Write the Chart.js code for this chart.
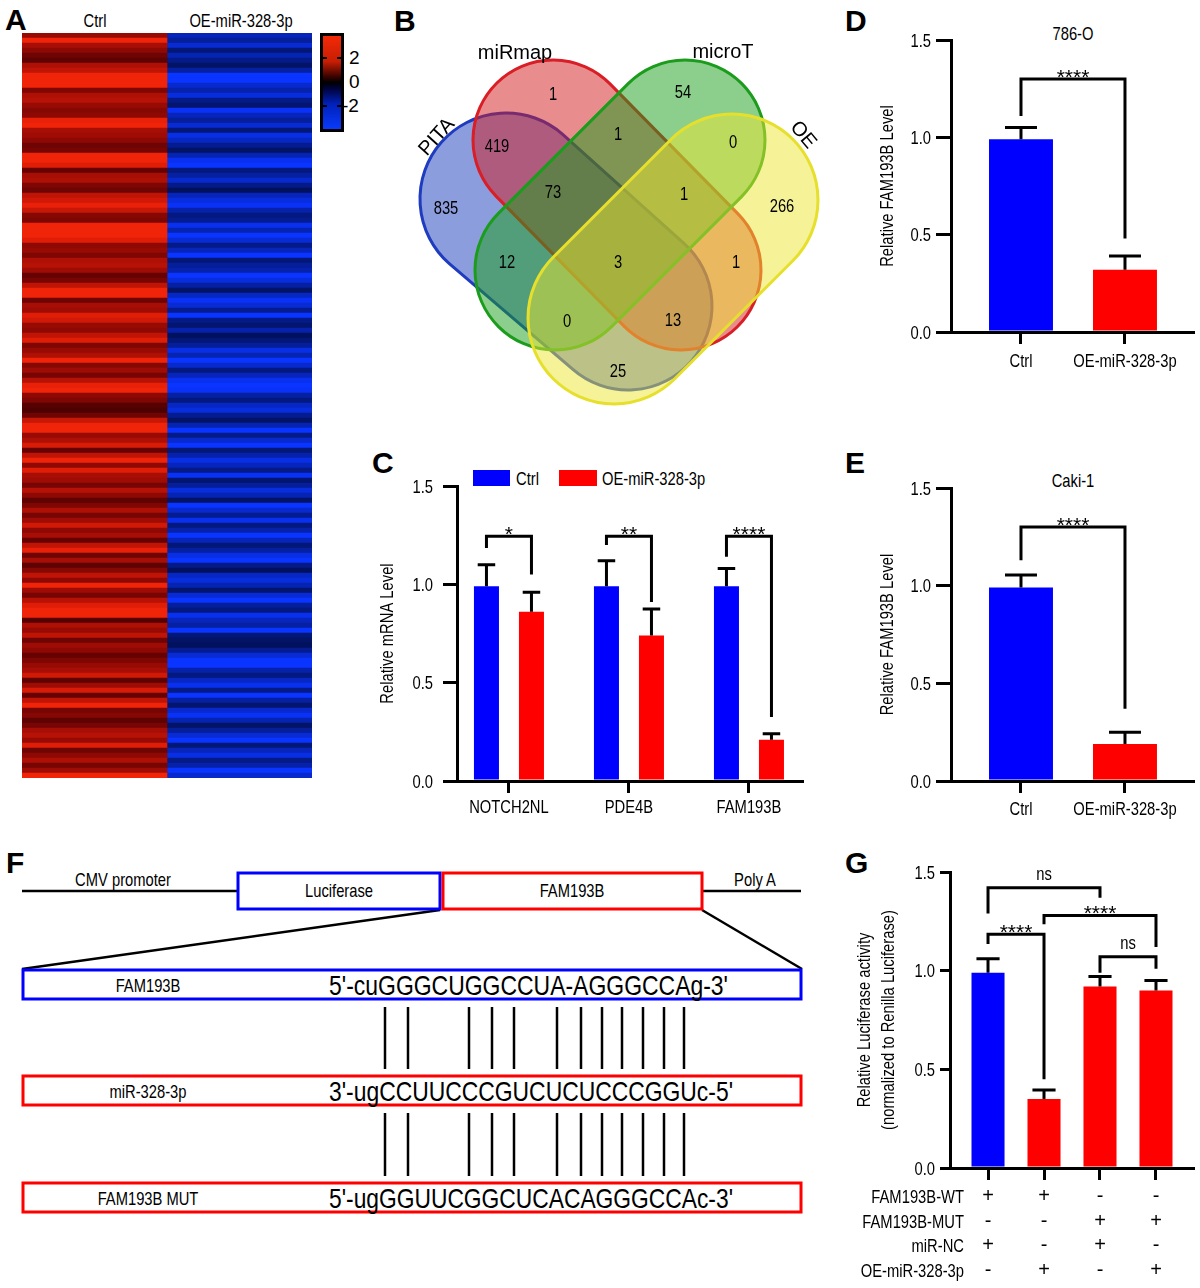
<!DOCTYPE html>
<html>
<head>
<meta charset="utf-8">
<script src="https://cdn.jsdelivr.net/npm/chart.js@4.4.1/dist/chart.umd.min.js"></script>
<style>
  body { margin: 0; background: #fff; }
  #fig { position: relative; width: 1200px; height: 1288px; overflow: hidden; }
  #fig canvas { position: absolute; }
  #fig svg { position: absolute; left: 0; top: 0; }
  svg text { font-family: 'Liberation Sans', Arial, sans-serif; }
  .b { font-weight: bold; font-size: 30px; }
</style>
</head>
<body>
<div id="fig">
<svg id="art" width="1200" height="1288">
  <defs>
    <linearGradient id="cb" x1="0" y1="0" x2="0" y2="1">
      <stop offset="0" stop-color="#f52a08"/>
      <stop offset="0.28" stop-color="#c81e04"/>
      <stop offset="0.44" stop-color="#380200"/>
      <stop offset="0.5" stop-color="#000000"/>
      <stop offset="0.56" stop-color="#000238"/>
      <stop offset="0.72" stop-color="#0020b8"/>
      <stop offset="1" stop-color="#0a3cff"/>
    </linearGradient>
  </defs>
  <text class="b" x="5" y="30">A</text>
  <text class="b" x="394" y="31">B</text>
  <text class="b" x="372" y="473">C</text>
  <text class="b" x="845" y="31">D</text>
  <text class="b" x="845" y="473">E</text>
  <text class="b" x="6" y="873">F</text>
  <text class="b" x="845" y="873">G</text>

  <g font-size="18" text-anchor="middle">
    <text transform="translate(95,27) scale(0.82,1)">Ctrl</text>
    <text transform="translate(241,27) scale(0.82,1)">OE-miR-328-3p</text>
    <text transform="translate(1073,40) scale(0.82,1)">786-O</text>
    <text transform="translate(1073,487) scale(0.82,1)">Caki-1</text>
  </g>
  <rect x="321.5" y="34.5" width="21" height="96" fill="url(#cb)" stroke="#000" stroke-width="3"/>
  <g stroke="#000" stroke-width="2">
    <line x1="323" y1="58" x2="327" y2="58"/><line x1="337" y1="58" x2="341" y2="58"/>
    <line x1="323" y1="106" x2="327" y2="106"/><line x1="337" y1="106" x2="341" y2="106"/>
  </g>
  <text font-size="19" x="349" y="64">2</text>
  <text font-size="19" x="349" y="88">0</text>
  <text font-size="19" x="342" y="112">-2</text>

  <rect x="473" y="470" width="37" height="16" fill="#0000ff"/>
  <text font-size="18" transform="translate(516,485) scale(0.82,1)">Ctrl</text>
  <rect x="559" y="470" width="38" height="16" fill="#ff0000"/>
  <text font-size="18" transform="translate(602,485) scale(0.82,1)">OE-miR-328-3p</text>

  <g fill="none" stroke="#000" stroke-width="2.5">
    <line x1="22" y1="891" x2="237" y2="891"/>
    <line x1="702" y1="891" x2="801" y2="891"/>
    <line x1="440" y1="910" x2="22" y2="969"/>
    <line x1="702" y1="910" x2="802" y2="969"/>
  </g>
  <rect x="238" y="873" width="202" height="36" fill="none" stroke="#0000ff" stroke-width="3"/>
  <rect x="443" y="873" width="259" height="36" fill="none" stroke="#ff0000" stroke-width="3"/>
  <rect x="23" y="970" width="778" height="29" fill="none" stroke="#0000ff" stroke-width="3"/>
  <rect x="23" y="1076" width="778" height="29" fill="none" stroke="#ff0000" stroke-width="3"/>
  <rect x="23" y="1183" width="778" height="29" fill="none" stroke="#ff0000" stroke-width="3"/>
  <g font-size="18" text-anchor="middle">
    <text transform="translate(123,886) scale(0.82,1)">CMV promoter</text>
    <text transform="translate(339,897) scale(0.82,1)">Luciferase</text>
    <text transform="translate(572,897) scale(0.82,1)">FAM193B</text>
    <text transform="translate(755,886) scale(0.82,1)">Poly A</text>
    <text transform="translate(148,992) scale(0.82,1)">FAM193B</text>
    <text transform="translate(148,1098) scale(0.82,1)">miR-328-3p</text>
    <text transform="translate(148,1205) scale(0.82,1)">FAM193B MUT</text>
  </g>
  <g font-size="28">
    <text x="329" y="995" textLength="399" lengthAdjust="spacingAndGlyphs">5'-cuGGGCUGGCCUA-AGGGCCAg-3'</text>
    <text x="329" y="1101" textLength="404" lengthAdjust="spacingAndGlyphs">3'-ugCCUUCCCGUCUCUCCCGGUc-5'</text>
    <text x="329" y="1208" textLength="404" lengthAdjust="spacingAndGlyphs">5'-ugGGUUCGGCUCACAGGGCCAc-3'</text>
  </g>
  <g id="pairs" stroke="#000" stroke-width="2.5"></g>
</svg>
<canvas id="heat" width="290" height="745" style="left:22px;top:33px"></canvas>
<canvas id="venn" width="460" height="420" style="left:380px;top:0px"></canvas>
<canvas id="mrna" width="440" height="390" style="left:370px;top:440px"></canvas>
<canvas id="c786" width="360" height="390" style="left:840px;top:0px"></canvas>
<canvas id="caki" width="360" height="390" style="left:840px;top:440px"></canvas>
<canvas id="luc" width="360" height="448" style="left:840px;top:840px"></canvas>
</div>
<script>
const SANS = "'Liberation Sans', Arial, sans-serif";

// A: heatmap rows (z-scores)
const heatCtrl = [
  1.3, 2.4, 1.5, 1.2, 0.8, 0.6, 1.6, 1.8, 2.5, 2.6,
  2.5, 1.0, 1.6, 1.7, 1.3, 1.1, 1.2, 2.3, 2.6, 1.5,
  1.4, 1.2, 0.8, 0.9, 2.4, 2.6, 2.2, 0.7, 1.5, 1.6,
  1.0, 0.8, 1.8, 2.0, 2.3, 1.9, 1.1, 1.0, 2.5, 2.6,
  2.7, 2.2, 1.2, 1.3, 1.0, 1.6, 1.7, 1.4, 0.7, 0.9,
  1.8, 2.5, 2.6, 0.8, 1.5, 1.4, 2.2, 2.0, 1.3, 1.2,
  1.8, 2.2, 1.0, 1.3, 1.6, 2.4, 1.1, 1.4, 0.9, 1.7,
  2.3, 2.5, 1.2, 1.0, 0.5, 0.4, 0.8, 1.9, 2.7, 2.4,
  1.3, 1.6, 2.1, 0.7, 1.8, 2.5, 1.2, 2.2, 1.5, 1.4,
  0.9, 1.7, 1.2, 0.6, 1.0, 1.6, 0.9, 1.4, 2.0, 1.2,
  1.5, 0.7, 1.8, 2.3, 0.8, 1.5, 0.6, 1.1, 1.8, 1.2,
  2.6, 1.4, 0.9, 1.7, 2.2, 2.5, 2.4, 0.5, 1.6, 1.3,
  1.8, 0.8, 1.4, 1.2, 0.7, 1.0, 1.3, 1.5, 2.0, 0.6,
  1.4, 2.1, 0.7, 1.8, 2.5, 0.9, 1.1, 0.6, 0.9, 1.5,
  1.7, 1.3, 2.2, 0.8, 1.2, 1.6, 0.9, 1.4, 2.4
];
const heatOE = [
  -1.6, -1.2, -1.9, -0.8, -1.5, -1.0, -0.6, -1.3, -2.4, -2.6,
  -1.8, -1.4, -2.0, -1.0, -0.7, -2.3, -1.6, -1.2, -1.9, -0.8,
  -2.1, -1.7, -1.1, -0.6, -1.5, -2.2, -2.4, -0.9, -1.3, -1.8,
  -1.0, -0.5, -1.6, -2.0, -2.3, -1.4, -0.9, -1.1, -2.2, -1.5,
  -2.5, -1.9, -1.0, -1.6, -2.4, -0.8, -1.2, -1.4, -2.6, -2.0,
  -1.3, -0.6, -1.7, -2.3, -1.9, -1.1, -2.5, -1.0, -0.7, -1.4,
  -0.5, -0.8, -1.2, -2.1, -1.5, -2.4, -1.8, -0.9, -1.6, -2.2,
  -2.6, -2.3, -1.3, -0.9, -1.7, -2.0, -1.1, -0.6, -1.5, -2.4,
  -1.0, -1.8, -2.5, -0.8, -1.4, -2.1, -1.6, -1.0, -2.3, -0.7,
  -1.2, -2.0, -1.5, -0.6, -2.4, -1.8, -1.1, -2.2, -0.9, -1.4,
  -2.5, -1.6, -0.8, -1.3, -2.1, -2.6, -1.0, -0.5, -1.7, -2.0,
  -1.5, -0.7, -1.9, -2.4, -1.2, -0.9, -2.2, -1.6, -1.3, -2.5,
  -0.8, -0.6, -0.5, -1.1, -1.9, -2.6, -2.4, -1.4, -0.9, -1.7,
  -2.2, -1.0, -2.5, -1.3, -0.7, -1.8, -2.3, -1.5, -0.6, -1.2,
  -1.9, -2.4, -0.8, -1.6, -2.1, -1.0, -1.4, -2.6, -1.8
];

// B: venn
const vennSets = ["PITA", "miRmap", "microT", "OE"];
const vennCounts = [1, 54, 419, 1, 0, 835, 73, 1, 266, 12, 3, 1, 0, 13, 25];
const vennSpotX = [553, 683, 497, 618, 733, 446, 553, 684, 782, 507, 618, 736, 567, 673, 618];
const vennSpotY = [95, 93, 147, 135, 143, 209, 193, 195, 207, 263, 263, 263, 322, 321, 372];

// C: qPCR
const mrnaGenes = ["NOTCH2NL", "PDE4B", "FAM193B"];
const mrnaCtrl = [0.99, 0.99, 0.99];
const mrnaCtrlErr = [0.11, 0.13, 0.09];
const mrnaOE = [0.86, 0.74, 0.21];
const mrnaOEErr = [0.10, 0.135, 0.03];
const mrnaStars = ["*", "**", "****"];

// D / E
const groups = ["Ctrl", "OE-miR-328-3p"];
const level786 = [0.99, 0.32];
const level786Err = [0.06, 0.07];
const levelCaki = [0.99, 0.19];
const levelCakiErr = [0.065, 0.06];

// G: luciferase
const lucValues = [0.99, 0.35, 0.92, 0.90];
const lucErr = [0.07, 0.045, 0.05, 0.05];
const lucRows = ["FAM193B-WT", "FAM193B-MUT", "miR-NC", "OE-miR-328-3p"];
const lucTable = [
  ["+", "+", "-", "-"],
  ["-", "-", "+", "+"],
  ["+", "-", "+", "-"],
  ["-", "+", "-", "+"]
];

// F: base pairing ticks
const pairX = [385, 408, 469, 492, 514, 557, 581, 602, 622, 643, 664, 684];

const BLUE = "#0000ff";
const RED = "#ff0000";

Chart.defaults.font.family = SANS;
Chart.defaults.font.size = 18;
Chart.defaults.color = "#000";
Chart.defaults.animation = false;
Chart.defaults.responsive = false;
Chart.defaults.devicePixelRatio = 1;
Chart.defaults.events = [];
Chart.defaults.plugins.legend.display = false;
Chart.defaults.plugins.tooltip.enabled = false;

var pairs = document.getElementById("pairs");
pairX.forEach(function (x) {
  [[1007, 1069], [1113, 1176]].forEach(function (yy) {
    var l = document.createElementNS("http://www.w3.org/2000/svg", "line");
    l.setAttribute("x1", x); l.setAttribute("x2", x);
    l.setAttribute("y1", yy[0]); l.setAttribute("y2", yy[1]);
    pairs.appendChild(l);
  });
});

// condensed text: Arial squeezed to the narrow face used in the figure
function narrowText(ctx, text, x, y, size, align, angle, baseline) {
  ctx.save();
  ctx.translate(x, y);
  if (angle) ctx.rotate(angle);
  ctx.scale(0.82, 1);
  ctx.font = size + "px " + SANS;
  ctx.fillStyle = "#000";
  ctx.textAlign = align || "center";
  ctx.textBaseline = baseline || "alphabetic";
  ctx.fillText(text, 0, 0);
  ctx.restore();
}

function heatColor(v) {
  var t = Math.min(Math.abs(v) / 2.4, 1);
  if (v >= 0) {
    return "rgb(" + Math.round(45 + 195 * t) + "," + Math.round(36 * t * t) + "," + Math.round(8 * t) + ")";
  }
  return "rgb(" + Math.round(10 * t) + "," + Math.round(8 + 44 * t) + "," + Math.round(50 + 205 * t) + ")";
}

new Chart(document.getElementById("heat"), {
  type: "bar",
  data: {
    labels: heatCtrl.map(function (_, i) { return i; }),
    datasets: [
      { data: heatCtrl.map(function () { return [0, 1]; }), backgroundColor: heatCtrl.map(heatColor) },
      { data: heatOE.map(function () { return [1, 2]; }), backgroundColor: heatOE.map(heatColor) }
    ]
  },
  options: {
    indexAxis: "y",
    layout: { padding: 0 },
    datasets: { bar: { grouped: false, barPercentage: 1, categoryPercentage: 1, borderWidth: 0 } },
    scales: {
      x: { display: false, min: 0, max: 2 },
      y: { display: false }
    }
  }
});

// capsule shapes of the venn (cap centres, radii, chart units)
const vennShapes = [
  { a: [506, 199], b: [628, 306], ra: 86, rb: 84, fill: "rgba(25,60,190,0.5)", line: "#1f3cc0" },
  { a: [553, 140], b: [681, 270], ra: 80, rb: 80, fill: "rgba(210,25,30,0.5)", line: "#d91e26" },
  { a: [685, 140], b: [555, 270], ra: 80, rb: 80, fill: "rgba(25,160,25,0.5)", line: "#1c9c1c" },
  { a: [732, 200], b: [614, 318], ra: 86, rb: 86, fill: "rgba(235,230,50,0.5)", line: "#e6e02c" }
];
const vennNamePos = [[437, 137, -48], [515, 53, 0], [723, 52, 0], [803, 135, 50]];

const vennPlugin = {
  id: "venn",
  beforeDatasetsDraw: function (chart) {
    var ctx = chart.ctx, sx = chart.scales.x, sy = chart.scales.y;
    var unit = sx.getPixelForValue(1) - sx.getPixelForValue(0);
    ctx.save();
    vennShapes.forEach(function (s) {
      var x1 = sx.getPixelForValue(s.a[0]), y1 = sy.getPixelForValue(s.a[1]);
      var x2 = sx.getPixelForValue(s.b[0]), y2 = sy.getPixelForValue(s.b[1]);
      var ang = Math.atan2(y2 - y1, x2 - x1);
      ctx.beginPath();
      ctx.arc(x2, y2, s.rb * unit, ang - Math.PI / 2, ang + Math.PI / 2);
      ctx.arc(x1, y1, s.ra * unit, ang + Math.PI / 2, ang + 1.5 * Math.PI);
      ctx.closePath();
      ctx.fillStyle = s.fill;
      ctx.fill();
      ctx.lineWidth = 3;
      ctx.strokeStyle = s.line;
      ctx.stroke();
    });
    ctx.fillStyle = "#000";
    ctx.font = "20px " + SANS;
    ctx.textAlign = "center";
    ctx.textBaseline = "middle";
    vennSets.forEach(function (name, i) {
      var p = vennNamePos[i];
      ctx.save();
      ctx.translate(sx.getPixelForValue(p[0]), sy.getPixelForValue(p[1]));
      ctx.rotate(p[2] * Math.PI / 180);
      ctx.fillText(name, 0, 0);
      ctx.restore();
    });
    ctx.restore();
  },
  afterDatasetsDraw: function (chart) {
    var ctx = chart.ctx;
    chart.getDatasetMeta(0).data.forEach(function (pt, i) {
      narrowText(ctx, String(vennCounts[i]), pt.x, pt.y, 18, "center", 0, "middle");
    });
  }
};

new Chart(document.getElementById("venn"), {
  type: "scatter",
  data: {
    datasets: [{
      data: vennCounts.map(function (_, i) { return { x: vennSpotX[i], y: vennSpotY[i] }; }),
      pointRadius: 0
    }]
  },
  options: {
    layout: { padding: 0 },
    scales: {
      x: { display: false, min: 380, max: 840 },
      y: { display: false, min: 0, max: 420, reverse: true }
    }
  },
  plugins: [vennPlugin]
});

function barChart(id, cfg) {
  var marks = {
    id: "marks",
    afterDatasetsDraw: function (chart) {
      var ctx = chart.ctx, x = chart.scales.x, y = chart.scales.y;
      var area = chart.chartArea;
      ctx.save();
      ctx.strokeStyle = "#000";
      ctx.lineWidth = 3;
      cfg.series.forEach(function (s, d) {
        chart.getDatasetMeta(d).data.forEach(function (bar, i) {
          var top = y.getPixelForValue(s.values[i] + s.err[i]);
          var w = bar.width * cfg.capRatio;
          ctx.beginPath();
          ctx.moveTo(bar.x, bar.y);
          ctx.lineTo(bar.x, top);
          ctx.moveTo(bar.x - w / 2, top);
          ctx.lineTo(bar.x + w / 2, top);
          ctx.stroke();
        });
      });
      cfg.brackets.forEach(function (b) {
        var xa = chart.getDatasetMeta(b.a[0]).data[b.a[1]].x;
        var xb = chart.getDatasetMeta(b.b[0]).data[b.b[1]].x;
        var yy = y.getPixelForValue(b.y);
        ctx.beginPath();
        ctx.moveTo(xa, y.getPixelForValue(b.ya));
        ctx.lineTo(xa, yy);
        ctx.lineTo(xb, yy);
        ctx.lineTo(xb, y.getPixelForValue(b.yb));
        ctx.stroke();
        if (b.text === "ns") {
          narrowText(ctx, "ns", (xa + xb) / 2, yy - 8, 18, "center");
        } else {
          ctx.fillStyle = "#000";
          ctx.font = "21px " + SANS;
          ctx.textAlign = "center";
          ctx.textBaseline = "alphabetic";
          ctx.fillText(b.text, (xa + xb) / 2, yy + 5);
        }
      });
      // axis text
      y.ticks.forEach(function (t) {
        narrowText(ctx, t.value.toFixed(1), area.left - cfg.labelGap, y.getPixelForValue(t.value) + 6.5, 18, "right");
      });
      cfg.labels.forEach(function (lab, i) {
        if (lab) narrowText(ctx, lab, x.getPixelForValue(i), area.bottom + cfg.xLabelDrop, 18, "center");
      });
      var cy = (area.top + area.bottom) / 2;
      cfg.yTitle.forEach(function (line, i) {
        narrowText(ctx, line, area.left + cfg.titleX[i], cy, 18, "center", -Math.PI / 2, "middle");
      });
      if (cfg.extra) cfg.extra(chart, ctx);
      ctx.restore();
    }
  };

  return new Chart(document.getElementById(id), {
    type: "bar",
    data: {
      datasets: cfg.series.map(function (s) {
        return {
          data: s.values.map(function (v, i) { return { x: i, y: v }; }),
          backgroundColor: s.color,
          borderWidth: 0,
          categoryPercentage: cfg.catPct,
          barPercentage: cfg.barPct
        };
      })
    },
    options: {
      layout: { padding: { top: cfg.padTop, right: cfg.padRight, left: 0, bottom: 0 } },
      scales: {
        x: {
          type: "linear",
          offset: false,
          min: cfg.xmin,
          max: cfg.xmax,
          afterBuildTicks: function (s) {
            s.ticks = cfg.labels.map(function (_, i) { return { value: i }; });
          },
          afterFit: function (s) { s.height = cfg.xHeight; },
          ticks: { callback: function () { return ""; }, maxRotation: 0, minRotation: 0, autoSkip: false },
          grid: { offset: false, drawOnChartArea: false, tickLength: 12, lineWidth: 3, color: "#000" },
          border: { width: 3, color: "#000" }
        },
        y: {
          min: 0,
          max: 1.5,
          afterFit: function (s) { s.width = cfg.yWidth; },
          ticks: { stepSize: 0.5, callback: function () { return ""; } },
          grid: { drawOnChartArea: false, tickLength: cfg.tickLen, lineWidth: 3, color: "#000" },
          border: { width: 3, color: "#000" }
        }
      }
    },
    plugins: [marks]
  });
}

barChart("mrna", {
  labels: mrnaGenes,
  series: [
    { values: mrnaCtrl, err: mrnaCtrlErr, color: BLUE },
    { values: mrnaOE, err: mrnaOEErr, color: RED }
  ],
  xmin: -0.433, xmax: 2.442, catPct: 0.75, barPct: 0.556, capRatio: 0.7,
  padTop: 46, padRight: 8, yWidth: 87, xHeight: 49, tickLen: 14, labelGap: 24, xLabelDrop: 32,
  yTitle: ["Relative mRNA Level"], titleX: [-69],
  brackets: mrnaStars.map(function (t, i) {
    return { a: [0, i], b: [1, i], y: 1.245, ya: [1.185, 1.20, 1.14][i], yb: [1.05, 0.91, 0.325][i], text: t };
  })
});

barChart("c786", {
  labels: groups,
  series: [{ values: level786, err: level786Err, color: [BLUE, RED] }],
  xmin: -0.673, xmax: 1.654, catPct: 1, barPct: 0.615, capRatio: 0.5,
  padTop: 40, padRight: 7, yWidth: 111, xHeight: 58, tickLen: 15, labelGap: 20, xLabelDrop: 35,
  yTitle: ["Relative FAM193B Level"], titleX: [-63],
  brackets: [{ a: [0, 0], b: [0, 1], y: 1.30, ya: 1.11, yb: 0.48, text: "****" }]
});

barChart("caki", {
  labels: groups,
  series: [{ values: levelCaki, err: levelCakiErr, color: [BLUE, RED] }],
  xmin: -0.673, xmax: 1.654, catPct: 1, barPct: 0.615, capRatio: 0.5,
  padTop: 48, padRight: 7, yWidth: 111, xHeight: 49, tickLen: 15, labelGap: 20, xLabelDrop: 34,
  yTitle: ["Relative FAM193B Level"], titleX: [-63],
  brackets: [{ a: [0, 0], b: [0, 1], y: 1.30, ya: 1.13, yb: 0.37, text: "****" }]
});

barChart("luc", {
  labels: ["", "", "", ""],
  series: [{ values: lucValues, err: lucErr, color: [BLUE, RED, RED, RED] }],
  xmin: -0.679, xmax: 3.661, catPct: 1, barPct: 0.59, capRatio: 0.7,
  padTop: 32, padRight: 7, yWidth: 110, xHeight: 120, tickLen: 10, labelGap: 15, xLabelDrop: 0,
  yTitle: ["Relative Luciferase activity", "(normalized to Renilla Luciferase)"], titleX: [-85, -61],
  brackets: [
    { a: [0, 0], b: [0, 2], y: 1.42, ya: 1.29, yb: 1.37, text: "ns" },
    { a: [0, 0], b: [0, 1], y: 1.185, ya: 1.135, yb: 0.45, text: "****" },
    { a: [0, 1], b: [0, 3], y: 1.28, ya: 1.235, yb: 1.12, text: "****" },
    { a: [0, 2], b: [0, 3], y: 1.07, ya: 0.99, yb: 1.01, text: "ns" }
  ],
  extra: function (chart, ctx) {
    var area = chart.chartArea;
    var bars = chart.getDatasetMeta(0).data;
    lucRows.forEach(function (row, r) {
      var yy = area.bottom + 35 + r * 24.5;
      narrowText(ctx, row, area.left + 14, yy, 18, "right");
      ctx.fillStyle = "#000";
      ctx.font = "20px " + SANS;
      ctx.textAlign = "center";
      ctx.textBaseline = "alphabetic";
      lucTable[r].forEach(function (sym, i) {
        ctx.fillText(sym, bars[i].x, yy - 1);
      });
    });
  }
});
</script>
</body>
</html>
